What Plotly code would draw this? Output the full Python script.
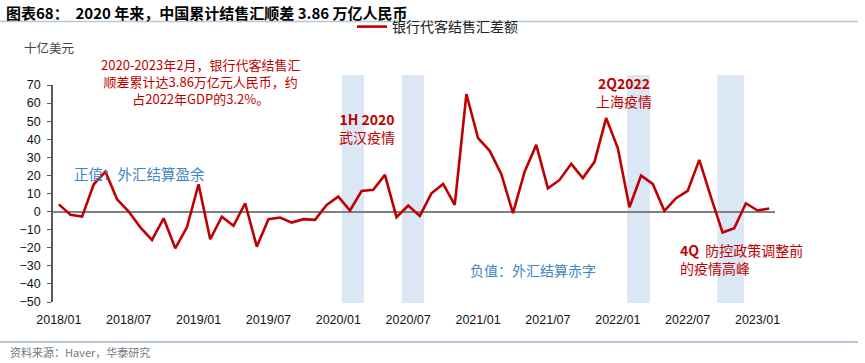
import plotly.graph_objects as go

# ---- data ----
months = [f"{y}/{m:02d}" for y in range(2018, 2024) for m in range(1, 13)][:62]  # 2018/01 .. 2023/02
net_fx = [4.0, -1.8, -2.8, 15.1, 22.1, 6.8, 0.0, -8.7, -15.7, -3.7, -20.3, -8.7,
          15.1, -15.3, -2.8, -7.9, 4.6, -19.4, -4.2, -3.3, -6.1, -4.2, -4.6, 3.7,
          8.3, 0.6, 11.4, 12.0, 20.3, -3.1, 3.3, -2.4, 10.1, 15.3, 3.7, 65.0,
          40.6, 33.6, 20.7, -0.9, 22.1, 36.9, 12.9, 17.5, 26.4, 18.5, 27.5, 51.7,
          35.1, 2.4, 19.9, 15.3, 0.4, 7.4, 11.4, 28.6, 8.0, -11.6, -9.2, 4.6,
          0.6, 1.7]
series_name = "银行代客结售汇差额"
# shaded epidemic periods (month index start / end)
band_start = [24.3, 29.45, 48.8, 56.55]
band_end = [26.2, 31.35, 50.75, 58.85]

y_ticks = list(range(-50, 71, 10))
x_idx = list(range(len(months)))
label_idx = x_idx[::6]

FONT = "Liberation Sans, Arial, Noto Sans CJK SC, sans-serif"
CJK = "Noto Sans CJK SC, Liberation Sans, sans-serif"
RED = "#c00000"
BLUE = "#3f86c4"

L, R, T, B = 53, 90, 85, 61
PW, PH = 865 - L - R, 363 - T - B


def px_x(p):
    return (p - L) / PW


def px_y(p):
    return (363 - B - p) / PH


fig = go.Figure()
fig.add_trace(go.Scatter(x=x_idx, y=net_fx, mode="lines", name=series_name,
                         line=dict(color=RED, width=2.6)))

for s, e in zip(band_start, band_end):
    fig.add_shape(type="rect", xref="x", yref="paper", x0=s, x1=e, y0=px_y(303), y1=px_y(75),
                  fillcolor="#dbe7f4", line=dict(width=0), layer="below")

fig.update_layout(
    width=865, height=363,
    margin=dict(l=L, r=R, t=T, b=B, autoexpand=False),
    paper_bgcolor="white", plot_bgcolor="white",
    font=dict(family=FONT, size=12, color="#000000"),
    showlegend=True,
    legend=dict(x=px_x(352), y=px_y(27), xanchor="left", yanchor="middle",
                font=dict(family=CJK, size=14, color="#222222"),
                bgcolor="rgba(0,0,0,0)", itemwidth=30),
    xaxis=dict(range=[-0.5, 61.5], tickmode="array", tickvals=label_idx,
               ticktext=[months[i] for i in label_idx], ticks="", showline=False,
               showgrid=False, zeroline=False, ticklabelstandoff=8,
               tickfont=dict(family=FONT, size=12.5, color="#111111")),
    xaxis2=dict(overlaying="x", anchor="free", position=50 / 120, side="bottom",
                range=[-0.5, 61.5], tickmode="array",
                tickvals=[i - 0.5 for i in label_idx], ticks="outside", ticklen=3,
                tickwidth=1.2, tickcolor="#595959", showticklabels=False,
                showline=False, showgrid=False, zeroline=False),
    yaxis=dict(range=[-50, 70], tickmode="array", tickvals=y_ticks, ticks="outside",
               ticklen=4, tickcolor="#595959", showline=True, linecolor="#595959",
               linewidth=1.5, showgrid=False, zeroline=True, zerolinecolor="#808080",
               zerolinewidth=2, tickfont=dict(family=FONT, size=12.5, color="#111111"),
               ticklabelstandoff=4),
)

# title, separators, unit, source
fig.add_annotation(xref="paper", yref="paper", x=px_x(4), y=px_y(12),
                   xanchor="left", yanchor="middle", showarrow=False,
                   text="<b>图表68：  2020 年来，中国累计结售汇顺差 3.86 万亿人民币</b>",
                   font=dict(family=CJK, size=15, color="#000000"))
fig.add_shape(type="line", xref="paper", yref="paper", x0=px_x(0), x1=px_x(858),
              y0=px_y(21.5), y1=px_y(21.5), line=dict(color="#b8c8dc", width=1.5))
fig.add_shape(type="line", xref="paper", yref="paper", x0=px_x(0), x1=px_x(858),
              y0=px_y(342), y1=px_y(342), line=dict(color="#9fb3ca", width=1.5))
fig.add_annotation(xref="paper", yref="paper", x=px_x(22), y=px_y(47),
                   xanchor="left", yanchor="middle", showarrow=False, text="十亿美元",
                   font=dict(family=CJK, size=12.5, color="#444444"))
fig.add_annotation(xref="paper", yref="paper", x=px_x(8), y=px_y(352),
                   xanchor="left", yanchor="middle", showarrow=False,
                   text="资料来源：Haver，华泰研究",
                   font=dict(family=CJK, size=11, color="#777777"))

# chart annotations
fig.add_annotation(x=px_x(200), y=px_y(81), xref="paper", yref="paper", showarrow=False,
                   xanchor="center", yanchor="middle", align="center",
                   text="2020-2023年2月，银行代客结售汇<br>顺差累计达3.86万亿元人民币，约<br>占2022年GDP的3.2%。",
                   font=dict(family=CJK, size=13, color=RED))
fig.add_annotation(x=1.1, y=21.3, xref="x", yref="y", showarrow=False, xanchor="left",
                   text="正值：外汇结算盈余", font=dict(family=CJK, size=14.5, color=BLUE))
fig.add_annotation(x=26.5, y=46.5, xref="x", yref="y", showarrow=False, align="center",
                   text="<b>1H 2020</b><br>武汉疫情",
                   font=dict(family=CJK, size=14, color=RED))
fig.add_annotation(x=48.5, y=66.1, xref="x", yref="y", showarrow=False, align="center",
                   text="<b>2Q2022</b><br>上海疫情",
                   font=dict(family=CJK, size=14, color=RED))
fig.add_annotation(x=40.7, y=-32.4, xref="x", yref="y", showarrow=False, align="center",
                   text="负值：外汇结算赤字", font=dict(family=CJK, size=14, color=BLUE))
fig.add_annotation(x=53.2, y=-26.3, xref="x", yref="y", showarrow=False, xanchor="left",
                   align="left", text="<b>4Q</b>  防控政策调整前<br>的疫情高峰",
                   font=dict(family=CJK, size=14, color=RED))

fig.write_html("out.html", config={"displayModeBar": False},
               post_script="document.body.style.margin='0';")
